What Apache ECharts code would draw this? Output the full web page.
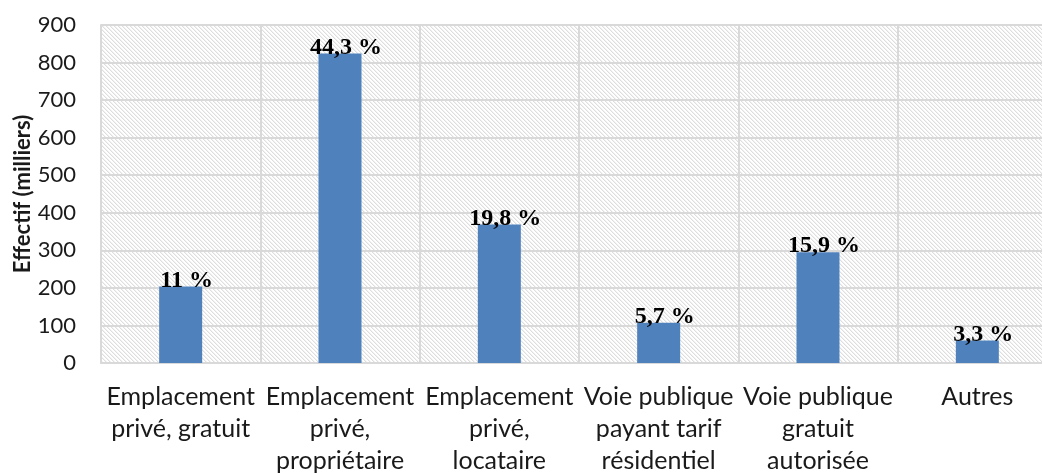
<!DOCTYPE html>
<html>
<head>
<meta charset="utf-8">
<script src="https://cdn.jsdelivr.net/npm/echarts@6/dist/echarts.min.js"></script>
<style>
    html, body { margin: 0; padding: 0; background: #fff; }
    #chart { width: 1042px; height: 473px; }
</style>
</head>
<body>
<div id="chart"></div>
<script>
let categories = [
    "Emplacement\nprivé, gratuit",
    "Emplacement\nprivé,\npropriétaire",
    "Emplacement\nprivé,\nlocataire",
    "Voie publique\npayant tarif\nrésidentiel",
    "Voie publique\ngratuit\nautorisée",
    "Autres"
];
let values = [204, 824, 369, 107, 295, 60];
let percentLabels = ["11 %", "44,3 %", "19,8 %", "5,7 %", "15,9 %", "3,3 %"];

// hatch pattern for the plot background
function makeHatch() {
    let c = document.createElement("canvas");
    c.width = 4;
    c.height = 4;
    let ctx = c.getContext("2d");
    ctx.fillStyle = "#ffffff";
    ctx.fillRect(0, 0, 4, 4);
    for (let i = 0; i < 4; i++) {
        ctx.fillStyle = "#dedede";
        ctx.fillRect(i, i, 1, 1);
        ctx.fillStyle = "#f2f2f2";
        ctx.fillRect((i + 1) % 4, i, 1, 1);
    }
    return c;
}

var dom = document.getElementById("chart");
var myChart = echarts.init(dom, null, { renderer: "canvas" });

var option = {
    backgroundColor: "#ffffff",
    animation: false,
    grid: {
        left: 101,
        top: 25,
        width: 956,
        height: 338,
        outerBoundsMode: "none",
        containLabel: false,
        show: true,
        borderWidth: 0,
        backgroundColor: { image: makeHatch(), repeat: "repeat" }
    },
    xAxis: {
        type: "category",
        data: categories,
        axisLine: { show: true, lineStyle: { color: "#d9d9d9", width: 2 } },
        axisTick: { show: false },
        splitLine: { show: true, interval: 0, lineStyle: { color: "#d9d9d9", width: 2 } },
        axisLabel: {
            interval: 0,
            margin: 18,
            fontFamily: "Lato",
            fontSize: 25,
            lineHeight: 32,
            color: "#1a1a1a"
        }
    },
    yAxis: {
        type: "value",
        min: 0,
        max: 900,
        interval: 100,
        name: "Effectif (milliers)",
        nameLocation: "middle",
        nameGap: 67,
        nameMoveOverlap: false,
        nameTextStyle: { fontFamily: "Lato", fontWeight: "bold", fontSize: 22, color: "#1a1a1a" },
        axisLine: { show: true, lineStyle: { color: "#d9d9d9", width: 2 } },
        axisTick: { show: false },
        splitLine: { show: true, lineStyle: { color: "#d9d9d9", width: 2 } },
        axisLabel: { margin: 25, fontFamily: "Lato", fontSize: 22, color: "#1a1a1a" }
    },
    series: [{
        type: "bar",
        data: values,
        barWidth: 43,
        itemStyle: { color: "#4f81bd" },
        label: {
            show: true,
            position: "top",
            distance: 0,
            offset: [6, 6],
            formatter: function (p) { return percentLabels[p.dataIndex]; },
            fontFamily: "Liberation Serif",
            fontWeight: "bold",
            fontSize: 24,
            color: "#000"
        }
    }]
};

myChart.setOption(option);
window.addEventListener("resize", myChart.resize);
</script>
</body>
</html>
